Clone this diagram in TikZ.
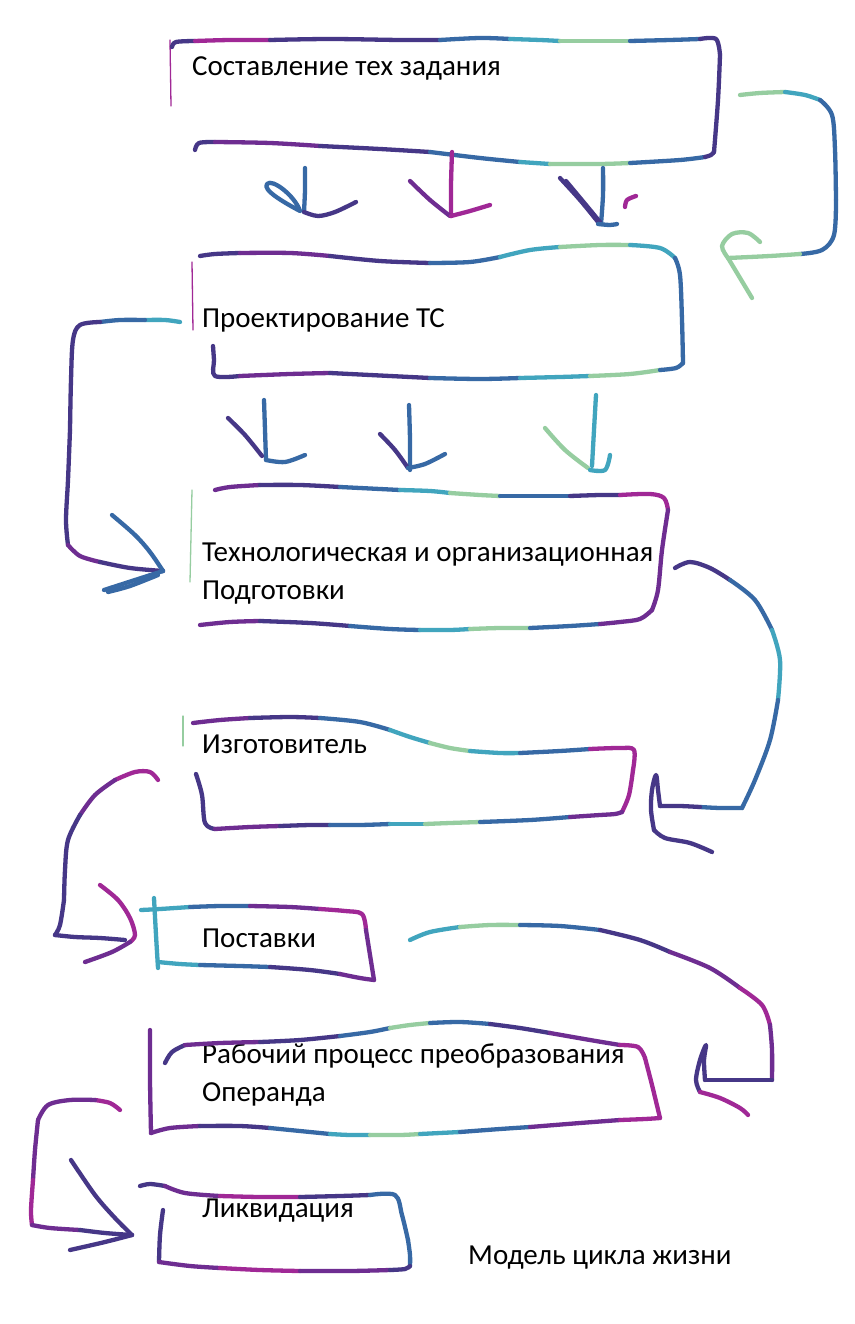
\documentclass[tikz,border=0pt]{standalone}
\usepackage{fontspec}
\setmainfont{Carlito}
\definecolor{cMag}{RGB}{160,40,150}
\definecolor{cPur}{RGB}{110,45,145}
\definecolor{cInd}{RGB}{70,55,135}
\definecolor{cBlu}{RGB}{55,105,165}
\definecolor{cTea}{RGB}{65,165,190}
\definecolor{cGrn}{RGB}{150,205,160}
\newcommand\seg[2]{\draw[pen,#1] plot[smooth,tension=.55] coordinates {#2};}
\begin{document}
\begin{tikzpicture}[x=1pt,y=-1pt,
  pen/.style={line width=4.3pt,line cap=round,line join=round},
  hair/.style={line width=1.3pt,line cap=round},
  lbl/.style={anchor=base west,inner sep=0pt,font=\fontsize{29}{38}\selectfont}]
\useasboundingbox (0,0) rectangle (854,1324);
\fill[white] (0,0) rectangle (854,1324);

% ---------- labels ----------
\node[lbl] (t1) at (192,76) {Составление тех задания};
\node[lbl] (t2) at (202,327) {Проектирование ТС};
\node[lbl] (t3) at (202,561) {Технологическая и организационная};
\node[lbl] (t3b) at (202,599) {Подготовки};
\node[lbl] (t4) at (202,753) {Изготовитель};
\node[lbl] (t5) at (202,947) {Поставки};
\node[lbl] (t6) at (202,1063) {Рабочий процесс преобразования};
\node[lbl] (t6b) at (202,1101) {Операнда};
\node[lbl] (t7) at (202,1217) {Ликвидация};
\node[lbl] (cap) at (468,1264) {Модель цикла жизни};

% ---------- box 1 ----------
\draw[hair,cMag] (170,40) -- (171,106);
\seg{cInd}{(172,47) (176,42) (195,41)}
\seg{cMag}{(195,41) (230,40) (270,40)}
\seg{cInd}{(270,40) (330,39) (400,40) (440,40)}
\seg{cBlu}{(440,40) (480,38) (510,39)}
\seg{cTea}{(510,39) (540,40) (560,41)}
\seg{cGrn}{(560,41) (600,41) (630,41)}
\seg{cBlu}{(630,41) (670,40) (700,39)}
\seg{cInd}{(700,39) (716,39) (720,55)}
\seg{cInd}{(720,55) (718,100) (714,152)}
\seg{cInd}{(195,150) (199,143) (215,142)}
\seg{cPur}{(215,142) (270,143) (320,146)}
\seg{cInd}{(320,146) (380,149) (430,152)}
\seg{cBlu}{(430,152) (480,158) (520,162)}
\seg{cTea}{(520,162) (535,163) (550,164)}
\seg{cGrn}{(550,164) (600,164) (630,163)}
\seg{cBlu}{(630,163) (680,160) (705,157)}
\seg{cInd}{(705,157) (711,155) (714,152)}

% arrows box 1 -> box 2
\seg{cBlu}{(305,168) (305,190) (304,212)}
\draw[pen,cBlu] (300,211) .. controls (285,203) and (262,190) .. (267,184) .. controls (272,178) and (295,196) .. (300,211);
\seg{cInd}{(304,212) (318,216) (335,212) (356,202)}
\seg{cMag}{(452,152) (451,185) (451,216)}
\seg{cPur}{(410,181) (430,200) (450,216)}
\seg{cMag}{(451,216) (470,211) (490,205)}
\seg{cBlu}{(603,168) (603,195) (601,224)}
\seg{cInd}{(560,178) (580,200) (598,222)}
\seg{cInd}{(566,181) (586,205) (600,222)}
\seg{cBlu}{(598,224) (610,225) (617,224)}
\seg{cMag}{(625,207) (627,200) (636,196)}

% connector box 1 -> box 2 (right side)
\coordinate (r1s) at (740,95);
\coordinate (r1e) at (728,258);
\seg{cGrn}{(r1s) (760,93) (785,92)}
\seg{cTea}{(785,92) (805,95) (820,100)}
\seg{cBlu}{(820,100) (832,115) (835,150) (836,200)}
\seg{cBlu}{(836,200) (834,235) (822,250) (800,254)}
\seg{cGrn}{(800,254) (770,256) (r1e)}
\seg{cGrn}{(r1e) (722,246) (732,234) (748,233) (760,242)}
\seg{cGrn}{(r1e) (740,278) (752,298)}

% ---------- box 2 ----------
\draw[hair,cMag] (192,262) -- (193,330);
\seg{cInd}{(200,256) (215,254) (240,253)}
\seg{cPur}{(240,253) (290,253) (330,256)}
\seg{cInd}{(330,256) (380,261) (430,263)}
\seg{cBlu}{(430,263) (470,262) (500,257)}
\seg{cTea}{(500,257) (530,250) (560,247)}
\seg{cGrn}{(560,247) (600,245) (630,245)}
\seg{cTea}{(630,245) (660,248) (675,258)}
\seg{cBlu}{(675,258) (680,275) (682,320) (683,363)}
\seg{cInd}{(213,346) (214,360) (215,376) (240,376)}
\seg{cPur}{(240,376) (290,374) (330,373)}
\seg{cInd}{(330,373) (390,376) (430,378)}
\seg{cBlu}{(430,378) (480,379) (520,378)}
\seg{cTea}{(520,378) (560,377) (590,376)}
\seg{cGrn}{(590,376) (630,374) (660,370)}
\seg{cBlu}{(660,370) (676,368) (683,363)}

% connector box 2 -> box 3 (left side)
\coordinate (l2s) at (180,322);
\coordinate (l2e) at (163,571);
\seg{cTea}{(l2s) (165,320) (145,320)}
\seg{cBlu}{(145,320) (120,320) (100,322)}
\seg{cInd}{(100,322) (80,325) (73,340) (71,380) (70,430)}
\seg{cInd}{(70,430) (68,480) (66,520) (68,545)}
\seg{cPur}{(68,545) (80,556) (100,562)}
\seg{cInd}{(100,562) (130,568) (l2e)}
\seg{cBlu}{(112,515) (135,535) (150,552) (l2e)}
\seg{cBlu}{(l2e) (135,580) (104,590)}
\seg{cBlu}{(158,575) (130,586) (108,592)}

% arrows box 2 -> box 3
\seg{cBlu}{(264,400) (265,430) (266,460)}
\seg{cInd}{(228,418) (245,435) (262,456)}
\seg{cBlu}{(266,460) (285,462) (305,455)}
\seg{cBlu}{(409,405) (410,440) (410,470)}
\seg{cInd}{(380,434) (395,450) (408,468)}
\seg{cBlu}{(408,468) (425,464) (445,454)}
\seg{cTea}{(596,395) (594,430) (592,466)}
\seg{cGrn}{(545,428) (565,450) (588,468)}
\seg{cTea}{(590,470) (605,470) (610,455)}

% ---------- box 3 ----------
\draw[hair,cGrn] (192,490) -- (190,582);
\seg{cPur}{(215,490) (230,487) (260,485)}
\seg{cInd}{(260,485) (300,485) (340,487)}
\seg{cBlu}{(340,487) (380,489) (400,490)}
\seg{cTea}{(400,490) (430,491) (450,493)}
\seg{cGrn}{(450,493) (480,495) (500,496)}
\seg{cBlu}{(500,496) (540,496) (570,496)}
\seg{cInd}{(570,496) (600,495) (620,495)}
\seg{cMag}{(620,495) (650,494) (664,498) (668,510)}
\seg{cPur}{(668,510) (662,550) (658,590) (652,610)}
\seg{cPur}{(200,625) (230,622) (260,621)}
\seg{cInd}{(260,621) (310,623) (350,626)}
\seg{cBlu}{(350,626) (390,629) (420,630)}
\seg{cTea}{(420,630) (450,630) (470,629)}
\seg{cGrn}{(470,629) (500,628) (530,628)}
\seg{cBlu}{(530,628) (570,626) (600,624)}
\seg{cPur}{(600,624) (620,622) (640,619) (652,610)}

% connector box 3 -> box 4 (right side)
\coordinate (r3s) at (675,568);
\coordinate (r3e) at (660,806);
\seg{cInd}{(r3s) (690,562) (710,568) (730,580)}
\seg{cBlu}{(730,580) (755,600) (772,630)}
\seg{cTea}{(772,630) (780,660) (778,700)}
\seg{cBlu}{(778,700) (770,740) (755,780) (742,808)}
\seg{cBlu}{(742,808) (720,808) (700,807)}
\seg{cInd}{(700,807) (680,806) (r3e)}
\seg{cInd}{(r3e) (658,790) (656,775) (652,790) (651,810) (654,830)}
\seg{cInd}{(654,830) (665,838) (690,843) (712,852)}

% ---------- box 4 ----------
\draw[hair,cGrn] (183,716) -- (183,746);
\seg{cPur}{(193,723) (220,720) (250,718)}
\seg{cInd}{(250,718) (290,717) (320,718)}
\seg{cBlu}{(320,718) (360,722) (390,730)}
\seg{cTea}{(390,730) (410,737) (430,743)}
\seg{cGrn}{(430,743) (450,748) (470,751)}
\seg{cTea}{(470,751) (500,753) (520,753)}
\seg{cBlu}{(520,753) (560,751) (590,749)}
\seg{cMag}{(590,749) (620,748) (634,750) (633,770)}
\seg{cMag}{(633,770) (629,795) (622,812)}
\seg{cInd}{(196,774) (202,795) (205,823) (215,829)}
\seg{cPur}{(215,829) (250,827) (280,826)}
\seg{cInd}{(280,826) (310,825) (330,825)}
\seg{cBlu}{(330,825) (360,825) (390,824)}
\seg{cTea}{(390,824) (410,824) (425,824)}
\seg{cGrn}{(425,824) (450,823) (480,822)}
\seg{cBlu}{(480,822) (530,820) (570,817)}
\seg{cPur}{(570,817) (600,815) (615,814) (622,812)}

% connector box 4 -> box 5 (left side)
\coordinate (l4s) at (158,780);
\coordinate (l4e) at (130,942);
\seg{cMag}{(l4s) (150,772) (135,772) (115,780)}
\seg{cPur}{(115,780) (95,795) (80,815)}
\seg{cInd}{(80,815) (68,840) (65,870) (64,900)}
\seg{cInd}{(64,900) (60,925) (55,935)}
\seg{cInd}{(55,935) (75,937) (100,938) (125,940)}
\seg{cMag}{(100,885) (118,900) (130,918) (135,935) (l4e)}
\seg{cPur}{(l4e) (112,952) (85,962)}

% ---------- box 5 ----------
\seg{cTea}{(154,898) (156,935) (158,968)}
\seg{cTea}{(141,910) (160,909) (190,907)}
\seg{cBlu}{(190,907) (220,906) (250,906)}
\seg{cPur}{(250,906) (290,907) (320,909)}
\seg{cMag}{(320,909) (345,911) (362,914) (366,930)}
\seg{cPur}{(366,930) (370,955) (374,980)}
\seg{cTea}{(158,962) (180,964) (200,965)}
\seg{cBlu}{(200,965) (240,966) (270,967)}
\seg{cInd}{(270,967) (310,970) (340,974)}
\seg{cPur}{(340,974) (360,978) (374,980)}

% connector box 5 -> box 6 (right side)
\coordinate (r5s) at (410,940);
\coordinate (r5e) at (705,1080);
\seg{cTea}{(r5s) (430,932) (460,927)}
\seg{cGrn}{(460,927) (490,925) (520,925)}
\seg{cBlu}{(520,925) (560,926) (600,930)}
\seg{cInd}{(600,930) (640,940) (670,952)}
\seg{cPur}{(670,952) (710,968) (740,988)}
\seg{cMag}{(740,988) (762,1005) (770,1025)}
\seg{cPur}{(770,1025) (772,1050) (772,1080)}
\seg{cInd}{(772,1080) (740,1080) (r5e)}
\seg{cInd}{(r5e) (704,1060) (706,1045) (700,1060) (696,1080) (700,1092)}
\seg{cMag}{(700,1092) (720,1098) (740,1108) (748,1115)}

% ---------- box 6 ----------
\seg{cPur}{(150,1030) (150,1080) (151,1133)}
\seg{cInd}{(165,1063) (172,1052) (185,1045)}
\seg{cPur}{(185,1045) (220,1043) (260,1042)}
\seg{cInd}{(260,1042) (300,1040) (340,1036)}
\seg{cBlu}{(340,1036) (370,1032) (390,1028)}
\seg{cGrn}{(390,1028) (410,1025) (430,1023)}
\seg{cBlu}{(430,1023) (460,1022) (490,1024)}
\seg{cInd}{(490,1024) (520,1028) (550,1033)}
\seg{cPur}{(550,1033) (590,1040) (620,1045)}
\seg{cMag}{(620,1045) (638,1047) (645,1058)}
\seg{cMag}{(645,1058) (652,1085) (660,1118)}
\seg{cPur}{(151,1133) (170,1128) (200,1126)}
\seg{cInd}{(200,1126) (240,1126) (270,1128)}
\seg{cBlu}{(270,1128) (300,1131) (330,1134)}
\seg{cTea}{(330,1134) (350,1135) (370,1135)}
\seg{cGrn}{(370,1135) (400,1135) (420,1134)}
\seg{cTea}{(420,1134) (440,1133) (460,1132)}
\seg{cBlu}{(460,1132) (500,1129) (530,1127)}
\seg{cPur}{(530,1127) (580,1123) (620,1120)}
\seg{cMag}{(620,1120) (645,1119) (660,1118)}

% connector box 6 -> box 7 (left side)
\coordinate (l6s) at (120,1110);
\coordinate (l6e) at (132,1235);
\seg{cMag}{(l6s) (110,1103) (95,1100)}
\seg{cPur}{(95,1100) (70,1100) (48,1105) (38,1120)}
\seg{cPur}{(38,1120) (35,1150) (33,1180)}
\seg{cMag}{(33,1180) (31,1210) (32,1225)}
\seg{cPur}{(32,1225) (50,1228) (80,1230)}
\seg{cInd}{(80,1230) (105,1233) (l6e)}
\seg{cInd}{(71,1160) (95,1195) (115,1218) (l6e)}
\seg{cInd}{(l6e) (105,1242) (70,1250)}

% ---------- box 7 ----------
\seg{cInd}{(140,1186) (150,1184) (165,1186)}
\seg{cPur}{(165,1186) (185,1193) (220,1196)}
\seg{cMag}{(220,1196) (260,1197) (300,1197)}
\seg{cInd}{(300,1197) (340,1196) (370,1195)}
\seg{cBlu}{(370,1195) (395,1195) (402,1215) (408,1240)}
\seg{cBlu}{(408,1240) (410,1255) (410,1266)}
\seg{cInd}{(163,1210) (160,1235) (159,1262)}
\seg{cPur}{(159,1262) (190,1266) (220,1268)}
\seg{cMag}{(220,1268) (260,1270) (300,1271)}
\seg{cPur}{(300,1271) (350,1271) (390,1270)}
\seg{cInd}{(390,1270) (405,1269) (410,1266)}
\end{tikzpicture}
\end{document}
